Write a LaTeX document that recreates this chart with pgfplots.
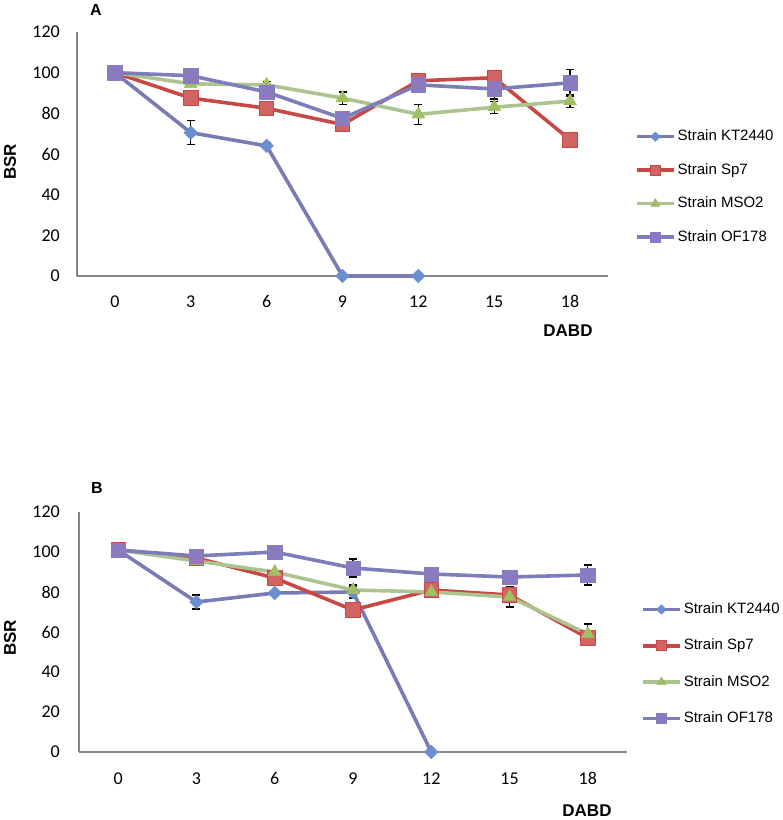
\documentclass[border=0pt]{standalone}
\usepackage{pgfplots}
\pgfplotsset{compat=1.18}
\usepackage{fontspec}
\setmainfont{Liberation Sans}
\newfontfamily\calibri{Carlito}

\definecolor{ktline}{RGB}{122,122,180}
\definecolor{ktmark}{RGB}{107,142,208}
\definecolor{spline}{RGB}{200,72,70}
\definecolor{spmark}{RGB}{208,100,98}
\definecolor{msline}{RGB}{172,196,142}
\definecolor{msmark}{RGB}{160,190,100}
\definecolor{ofline}{RGB}{125,125,185}
\definecolor{ofmark}{RGB}{138,122,192}
\definecolor{axgray}{RGB}{134,134,134}

\pgfplotsset{
  strain/.style={
    scale only axis, clip=false,
    xmin=-1.5, xmax=19.5, ymin=0, ymax=120,
    xtick={0,3,...,18}, ytick={0,20,...,120},
    axis x line*=bottom, axis y line*=left,
    axis line style={draw=axgray, line width=1.3pt},
    major tick length=0pt,
    /pgf/number format/assume math mode=true,
    tick label style={font=\calibri\fontsize{18}{18}\selectfont, inner sep=0pt},
    xticklabel style={anchor=base, yshift=-32pt},
    legend cell align=left,
    legend image code/.code={\draw[mark repeat=2,mark phase=2,every mark/.append style={scale=0.7}]
      plot coordinates {(0pt,0pt)(18.5pt,0pt)(37pt,0pt)};},
    legend style={draw=none, fill=none, anchor=west,
      font=\fontsize{15}{15}\selectfont,
      nodes={inner xsep=2pt, inner ysep=0pt, text height=11pt, text depth=3pt}},
  },
  kt/.style={ktline, line width=3.6pt, line join=round, mark=square*, mark size=4.8pt,
    mark options={rotate=45, fill=ktmark, draw=ktmark, line width=0.5pt}},
  sp/.style={spline, line width=3.6pt, line join=round, mark=square*, mark size=7.2pt,
    mark options={fill=spmark, draw=spline, line width=0.8pt}},
  ms/.style={msline, line width=3.6pt, line join=round, mark=triangle*, mark size=7.5pt,
    mark options={fill=msmark, draw=msmark, line width=0.5pt}},
  of/.style={ofline, line width=3.6pt, line join=round, mark=square*, mark size=7.2pt,
    mark options={fill=ofmark, draw=ofmark, line width=0.5pt}},
  errs/.style={forget plot, draw=none, mark=none,
    error bars/.cd, y dir=both, y explicit,
    error bar style={draw=black, line width=1.2pt},
    error mark options={draw=black, rotate=90, mark size=4pt, line width=1.2pt}},
}

\begin{document}
\begin{tikzpicture}
\useasboundingbox (0,0) rectangle (783pt,820pt);

% panel A
\begin{axis}[strain, at={(77pt,544pt)}, anchor=south west,
  width=531pt, height=244pt,
  yticklabel style={anchor=east, xshift=-17pt},
  legend style={at={(1.045,0.365)}, row sep=19.5pt}]
  \addplot[errs] coordinates {
    (3,70.5) +- (0,6) (6,64) +- (0,1.5)
    (9,74.5) +- (0,2) (12,96) +- (0,3)
    (6,94) +- (0,1.5) (9,87.5) +- (0,3) (12,79.5) +- (0,5) (15,83) +- (0,3) (18,86) +- (0,3)
    (9,77.5) +- (0,3) (15,92) +- (0,5) (18,95) +- (0,6.5)
  };
  \addplot[kt] coordinates {(0,100) (3,70.5) (6,64) (9,0) (12,0)};
  \addlegendentry{Strain KT2440}
  \addplot[sp] coordinates {(0,100) (3,87.5) (6,82.5) (9,74.5) (12,96) (15,97.5) (18,67)};
  \addlegendentry{Strain Sp7}
  \addplot[ms] coordinates {(0,100) (3,94.5) (6,94) (9,87.5) (12,79.5) (15,83) (18,86)};
  \addlegendentry{Strain MSO2}
  \addplot[of] coordinates {(0,100) (3,98.5) (6,90.5) (9,77.5) (12,94) (15,92) (18,95)};
  \addlegendentry{Strain OF178}
\end{axis}

% panel B
\begin{axis}[strain, at={(79pt,68pt)}, anchor=south west,
  width=548pt, height=240pt,
  yticklabel style={anchor=east, xshift=-19pt},
  legend style={at={(1.02,0.367)}, row sep=22.3pt}]
  \addplot[errs] coordinates {
    (3,75) +- (0,3.5) (9,80) +- (0,3)
    (9,81) +- (0,2.5) (15,77.5) +- (0,5) (18,59) +- (0,5)
    (9,92) +- (0,4.5) (12,89) +- (0,2) (15,87.5) +- (0,2) (18,88.5) +- (0,5)
  };
  \addplot[kt] coordinates {(0,101) (3,75) (6,79.5) (9,80) (12,0)};
  \addlegendentry{Strain KT2440}
  \addplot[sp] coordinates {(0,101) (3,97) (6,87) (9,71) (12,81) (15,78.5) (18,57)};
  \addlegendentry{Strain Sp7}
  \addplot[ms] coordinates {(0,101) (3,95.5) (6,90) (9,81) (12,80) (15,77.5) (18,59)};
  \addlegendentry{Strain MSO2}
  \addplot[of] coordinates {(0,101) (3,98) (6,100) (9,92) (12,89) (15,87.5) (18,88.5)};
  \addlegendentry{Strain OF178}
\end{axis}

\node[font=\bfseries\fontsize{16}{16}\selectfont] at (96pt,810pt) {A};
\node[font=\bfseries\fontsize{16}{16}\selectfont] at (97pt,332pt) {B};
\node[rotate=90, font=\bfseries\fontsize{17}{17}\selectfont] at (10pt,658pt) {BSR};
\node[rotate=90, font=\bfseries\fontsize{17}{17}\selectfont] at (10pt,182pt) {BSR};
\node[font=\bfseries\fontsize{17}{17}\selectfont] at (568pt,489pt) {DABD};
\node[font=\bfseries\fontsize{17}{17}\selectfont] at (587pt,9pt) {DABD};
\end{tikzpicture}
\end{document}
